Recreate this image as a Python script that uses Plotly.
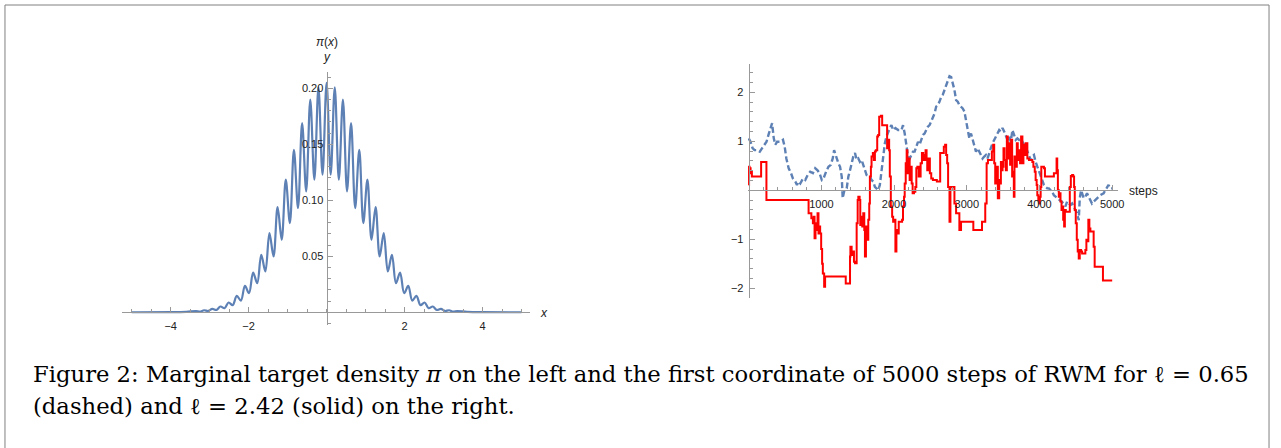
import plotly.graph_objects as go

# ---------------- data ----------------
# Left panel: marginal target density pi(x) (extrema)
dens_x = [-5.0, -4.0, -3.6, -3.351, -3.246, -3.142, -3.037, -2.932, -2.827, -2.723, -2.618,
          -2.513, -2.409, -2.304, -2.199, -2.094, -1.99, -1.885, -1.78, -1.676, -1.571,
          -1.466, -1.361, -1.257, -1.152, -1.047, -0.942, -0.838, -0.733, -0.628, -0.524,
          -0.419, -0.314, -0.209, -0.105, 0.0,
          0.105, 0.209, 0.314, 0.419, 0.524, 0.628, 0.733, 0.838, 0.942, 1.047,
          1.152, 1.257, 1.361, 1.466, 1.571, 1.676, 1.78, 1.885, 1.99, 2.094,
          2.199, 2.304, 2.409, 2.513, 2.618, 2.723, 2.827, 2.932, 3.037, 3.142,
          3.246, 3.351, 3.6, 4.0, 5.0]
dens_y = [0.0, 0.0001, 0.0004, 0.001, 0.0006, 0.0018, 0.0011, 0.003, 0.002, 0.0051, 0.0036,
          0.0087, 0.0063, 0.0146, 0.0104, 0.0236, 0.017, 0.0355, 0.026, 0.0513, 0.0364,
          0.0707, 0.0498, 0.094, 0.0648, 0.1185, 0.0797, 0.145, 0.093, 0.169, 0.108,
          0.190, 0.1185, 0.201, 0.123, 0.205,
          0.123, 0.201, 0.1185, 0.190, 0.108, 0.169, 0.093, 0.145, 0.0797, 0.1185,
          0.0648, 0.094, 0.0498, 0.0707, 0.0364, 0.0513, 0.026, 0.0355, 0.017, 0.0236,
          0.0104, 0.0146, 0.0063, 0.0087, 0.0036, 0.0051, 0.002, 0.003, 0.0011, 0.0018,
          0.0006, 0.001, 0.0004, 0.0001, 0.0]

# Right panel: RWM chain, l = 0.65 (dashed)
blue_steps = [0, 26, 53, 80, 117, 153, 185, 217, 245, 272, 299, 322, 345, 367, 390, 436, 472,
              495, 518, 550, 582, 609, 641, 664, 687, 710, 746, 778, 810, 846, 883, 915, 947,
              974, 1006, 1029, 1065, 1097, 1129, 1156, 1175, 1202, 1234,
              1257, 1280, 1293, 1316, 1348, 1371, 1394, 1416, 1439, 1462, 1485, 1508, 1530,
              1553, 1576, 1599, 1622, 1645, 1667, 1690, 1713, 1736, 1758, 1781, 1804, 1827,
              1850, 1873, 1896, 1918, 1941, 1964, 1987, 2018, 2055, 2101, 2123, 2146, 2169,
              2192, 2215, 2237, 2260, 2283, 2306, 2329, 2351, 2374, 2397, 2420, 2443, 2465,
              2488, 2511, 2534, 2557,
              2579, 2602, 2625, 2648, 2670, 2693, 2716, 2739, 2762, 2785, 2807, 2830, 2853,
              2876, 2898, 2921, 2944, 2967, 2990, 3012, 3035, 3058, 3081, 3103, 3126, 3149,
              3172, 3194, 3217, 3240, 3263, 3286, 3309, 3331, 3354, 3377, 3400, 3423, 3446,
              3468, 3491, 3514, 3537, 3560, 3582, 3605, 3628, 3651, 3673, 3696, 3719, 3742,
              3765, 3788, 3810, 3833,
              3856, 3879, 3902, 3924, 3947, 3970, 3993, 4016, 4038, 4061, 4084, 4107, 4130,
              4152, 4175, 4198, 4244, 4289, 4335, 4358, 4380, 4403, 4426, 4449, 4472, 4494,
              4517, 4540, 4554, 4572, 4590, 4608, 4631, 4654, 4677, 4700, 4722, 4745, 4791,
              4836, 4882, 4905, 4928, 4950, 4973, 5000]
blue_vals = [1.06, 0.99, 0.86, 0.82, 0.82, 0.79, 0.86, 0.93, 0.99, 1.13, 1.27, 1.37, 1.06, 0.93,
             0.99, 0.99, 1.03, 0.89, 0.65, 0.45, 0.35, 0.24, 0.18, 0.11, 0.18, 0.14, 0.24, 0.21,
             0.31, 0.38, 0.35, 0.45, 0.41, 0.35, 0.21, 0.24, 0.38, 0.48, 0.52, 0.65, 0.82, 0.69,
             0.55,
             0.48, 0.28, -0.16, 0.0, 0.04, 0.28, 0.41, 0.55, 0.69, 0.76, 0.62, 0.65, 0.58, 0.62,
             0.52, 0.41, 0.31, 0.28, 0.28, 0.21, 0.18, 0.07, 0.04, 0.0, 0.11, 0.41, 0.76, 0.96,
             1.10, 1.20, 1.27, 1.33, 1.23, 1.27, 1.23, 1.23, 1.33, 1.16, 0.89, 0.69, 0.65, 0.72,
             0.79, 0.79, 0.89, 0.99, 0.93, 1.06, 1.13, 1.16, 1.23, 1.30, 1.33, 1.40, 1.50, 1.57,
             1.71, 1.74, 1.81, 1.91, 1.95, 2.05, 2.15, 2.25, 2.33, 2.31, 2.18, 2.05, 1.84, 1.81,
             1.74, 1.71, 1.67, 1.61, 1.44, 1.20, 1.06, 1.16, 1.03, 0.93, 0.79, 0.86, 0.79, 0.72,
             0.65, 0.69, 0.72, 0.65, 0.79, 0.86, 0.96, 1.03, 1.10, 1.16, 1.23, 1.20, 1.27, 1.20,
             1.10, 1.03, 1.10, 0.99, 1.23, 1.10, 1.03, 1.06, 1.03, 1.06, 0.99, 0.93, 0.89, 0.80,
             0.70, 0.62, 0.69, 0.72, 0.58, 0.48, 0.41, 0.28, 0.18, 0.11, 0.07, 0.04, 0.04, 0.0,
             -0.03, -0.10, -0.16, -0.20, -0.27, -0.33, -0.23, -0.27, -0.30, -0.27, -0.33, -0.40,
             -0.47, -0.61, -0.16, 0.0, -0.10, -0.16, -0.13, -0.06, -0.13, -0.20, -0.27, -0.23,
             -0.16, -0.10, -0.06, 0.0, 0.07, 0.11, 0.04, 0.04]

# Right panel: RWM chain, l = 2.42 (solid) -- values held between change points
red_steps = [0, 5, 12, 17, 26, 44, 171, 244, 824, 862, 883, 892, 906, 919, 928, 938, 947, 960,
             974, 983, 997, 1010, 1020, 1038, 1051, 1335, 1394, 1399, 1416, 1430, 1448, 1462,
             1485, 1499, 1508, 1526, 1535, 1553, 1562, 1576, 1590, 1599, 1613, 1626, 1645, 1658,
             1667, 1681, 1690, 1708, 1722, 1736, 1749, 1768, 1781, 1795, 1818, 1836, 1904, 1918,
             1932, 1941, 1955, 1973, 1987, 2000, 2018, 2032, 2046, 2064, 2110, 2123, 2137, 2146,
             2160, 2173, 2183, 2201, 2214, 2228, 2242, 2255, 2274, 2292, 2306, 2320, 2338, 2365,
             2383, 2401, 2420, 2433, 2447, 2456, 2474, 2492, 2511, 2534,
             2547, 2588, 2634, 2684, 2702, 2716, 2730, 2743, 2762, 2775, 2830, 2853, 2898, 2921,
             3090, 3209, 3254, 3273, 3291, 3345, 3363, 3377, 3391, 3409, 3427, 3446, 3460, 3469,
             3483, 3492, 3505, 3519, 3537, 3551, 3564, 3583, 3596, 3610, 3624, 3633, 3647, 3656,
             3674, 3688, 3701, 3719, 3733, 3747, 3765, 3779, 3792, 3810, 3833,
             3856, 3902, 3916, 3935, 3947, 3961, 3970, 3984, 3997, 4006, 4016, 4025, 4061, 4075,
             4198, 4235, 4244, 4253, 4266, 4280, 4289, 4303, 4317, 4326, 4339, 4349, 4362, 4417,
             4431, 4449, 4463, 4476, 4485, 4499, 4513, 4526, 4540, 4554, 4572, 4586, 4631, 4645,
             4663, 4672, 4686, 4700, 4745, 4759, 4873, 5000]
red_vals = [0.11, 0.48, 0.35, 0.45, 0.38, 0.28, 0.58, -0.20, -0.47, -0.57, -0.67, -0.54, -0.98,
            -0.67, -0.81, -0.74, -0.47, -0.88, -0.74, -0.88, -1.20, -1.50, -1.70, -1.97, -1.76,
            -1.90, -1.35, -1.15, -1.32, -1.25, -1.46, -1.49,
            -0.67, -0.20, -0.13, -0.20, -0.71, -0.54, -0.74, -0.47, -0.81, -1.35, -0.74, -1.01,
            -0.60, -0.27, 0.28, 0.48, 0.69, 0.76, 0.62, 0.79, 0.82, 1.10, 1.13, 1.50, 1.52, 1.33,
            0.86, 1.03, 0.82, 0.28, -0.33, -0.54, -0.64, -0.60, -1.25, -0.81, -0.88, -0.64,
            -0.60, -0.33, -0.13, 0.14, 0.55, 0.82, 0.35, 0.65, 0.21, 0.48, 0.14, -0.06, -0.03,
            0.07, 0.45, 0.48, 0.28, 0.55, 0.76, 0.62, 0.72, 0.82, 0.62, 0.41, 0.65, 0.35, 0.24,
            0.21,
            0.21, 0.18, 0.76, 0.89, 0.93, 0.72, 0.55, 0.07, -0.64, 0.07, -0.27, -0.47, -0.81,
            -0.64, -0.81, -0.64, -0.27, 0.55, 0.62, 0.79, 0.93, 0.55, 0.14, 0.48, -0.16, 0.21,
            0.14, 0.58, 0.41, 0.48, 0.86, 0.62, 0.41, 1.10, 0.65, 0.96, 0.52, 1.03, 0.28, 0.38,
            -0.13, 0.69, 0.48, 0.96, 0.62, 0.82, 0.55, 1.10, 0.55, 0.93, 0.72, 0.96, 0.65,
            0.62, 0.58, 0.48, 0.38, 0.21, 0.11, -0.10, -0.20, -0.27, -0.13, 0.07, 0.48, 0.45,
            0.28, 0.35, 0.65, 0.41, 0.0, -0.13, -0.06, -0.23, -0.40, -0.33, -0.60, -0.74, -0.40,
            -0.44, 0.07, 0.29, 0.31, 0.28, 0.07, -0.40, -0.67, -1.01, -1.25, -1.39, -1.22, -1.25,
            -1.29, -1.22, -1.01, -1.04, -0.60, -0.78, -0.84, -1.15, -1.56, -1.84, -1.84]

left_xticks = [-4, -2, 2, 4]
left_xtext = ["\u22124", "\u22122", "2", "4"]
left_yticks = [0.05, 0.10, 0.15, 0.20]
left_ytext = ["0.05", "0.10", "0.15", "0.20"]
right_xticks = [1000, 2000, 3000, 4000, 5000]
right_xtext = ["1000", "2000", "3000", "4000", "5000"]
right_yticks = [-2, -1, 1, 2]
right_ytext = ["\u22122", "\u22121", "1", "2"]

caption1 = ("Figure 2: Marginal target density <i>\u03c0</i> on the left and the first coordinate "
            "of 5000 steps of RWM for \u2113 = 0.65")
caption2 = "(dashed) and \u2113 = 2.42 (solid) on the right."

# ---------------- layout geometry (pixels) ----------------
W, H = 1281, 448
def px(x):
    return x / W
def py(y):
    return (H - y) / H

BLUE = "#5E81B5"
AXC = "#999999"
TXT = "#222222"
TICKFONT = dict(family="Liberation Sans, Arial, sans-serif", size=11, color=TXT)

fig = go.Figure()
fig.add_trace(go.Scatter(x=dens_x, y=dens_y, mode="lines", xaxis="x", yaxis="y",
                         line=dict(color=BLUE, width=2.2, shape="spline", smoothing=1.0),
                         hoverinfo="skip"))
fig.add_trace(go.Scatter(x=blue_steps, y=blue_vals, mode="lines", xaxis="x2", yaxis="y2",
                         line=dict(color=BLUE, width=2.4, dash="6px,3px"), hoverinfo="skip"))
fig.add_trace(go.Scatter(x=red_steps, y=red_vals, mode="lines", xaxis="x2", yaxis="y2",
                         line=dict(color="#FF0000", width=2, shape="hv"), hoverinfo="skip"))

common = dict(showgrid=False, zeroline=False, showline=True, linecolor=AXC, linewidth=1,
              ticks="inside", tickcolor=AXC, tickwidth=1, ticklen=5, tickfont=TICKFONT,
              anchor="free", fixedrange=True)

# Left panel axes
lx0, lx1 = -5.24, 5.22
ly0, ly1 = -0.0114, 0.2149
fig.update_layout(
    xaxis=dict(domain=[px(123), px(533)], range=[lx0, lx1], position=py(312.3),
               tickmode="array", tickvals=left_xticks, ticktext=left_xtext,
               minor=dict(dtick=0.5, tick0=0, ticklen=3, ticks="inside", tickcolor=AXC,
                          showgrid=False),
               ticklabelstandoff=3, **common),
    yaxis=dict(domain=[py(325), py(71.7)], range=[ly0, ly1], position=px(328.3), side="left",
               tickmode="array", tickvals=left_yticks, ticktext=left_ytext,
               minor=dict(dtick=0.01, tick0=0, ticklen=3, ticks="inside", tickcolor=AXC,
                          showgrid=False),
               ticklabelstandoff=1, **common),
    xaxis2=dict(domain=[px(752), px(1124)], range=[-11, 5078], position=py(190.3),
                tickmode="array", tickvals=right_xticks, ticktext=right_xtext,
                minor=dict(dtick=200, tick0=0, ticklen=3, ticks="inside", tickcolor=AXC,
                           showgrid=False),
                ticklabelstandoff=3, **common),
    yaxis2=dict(domain=[py(298), py(64)], range=[-2.198, 2.578], position=px(752.8),
                side="left", tickmode="array", tickvals=right_yticks, ticktext=right_ytext,
                minor=dict(dtick=0.2, tick0=0, ticklen=3, ticks="inside", tickcolor=AXC,
                           showgrid=False),
                ticklabelstandoff=3, **common),
)

LABF = dict(family="Liberation Sans, Arial, sans-serif", size=12, color=TXT)
CAPF = dict(family="DejaVu Serif, serif", size=22.7, color="#000000")
annotations = [
    dict(text="<i>\u03c0</i>(<i>x</i>)", x=px(328.3), y=py(41.7), font=LABF),
    dict(text="<i>y</i>", x=px(328.3), y=py(56.7), font=LABF),
    dict(text="<i>x</i>", x=px(546.7), y=py(313.3), font=LABF),
    dict(text="steps", x=px(1133), y=py(191), xanchor="left", font=LABF),
    dict(text=caption1, x=px(31), y=py(374), xanchor="left", font=CAPF),
    dict(text=caption2, x=px(31), y=py(406), xanchor="left", font=CAPF),
]
for a in annotations:
    a.setdefault("xanchor", "center")
    a.update(xref="paper", yref="paper", yanchor="middle", showarrow=False)

fig.update_layout(
    width=W, height=H, margin=dict(l=0, r=0, t=0, b=0),
    paper_bgcolor="white", plot_bgcolor="rgba(0,0,0,0)", showlegend=False,
    annotations=annotations,
    shapes=[dict(type="rect", xref="paper", yref="paper", x0=px(5), x1=px(1276),
                 y0=-0.05, y1=py(5), line=dict(color="#808080", width=1),
                 fillcolor="rgba(0,0,0,0)", layer="below")],
)

fig.write_html("out.html", config={"displayModeBar": False},
               post_script="document.body.style.margin='0';document.body.style.overflow='hidden';")
